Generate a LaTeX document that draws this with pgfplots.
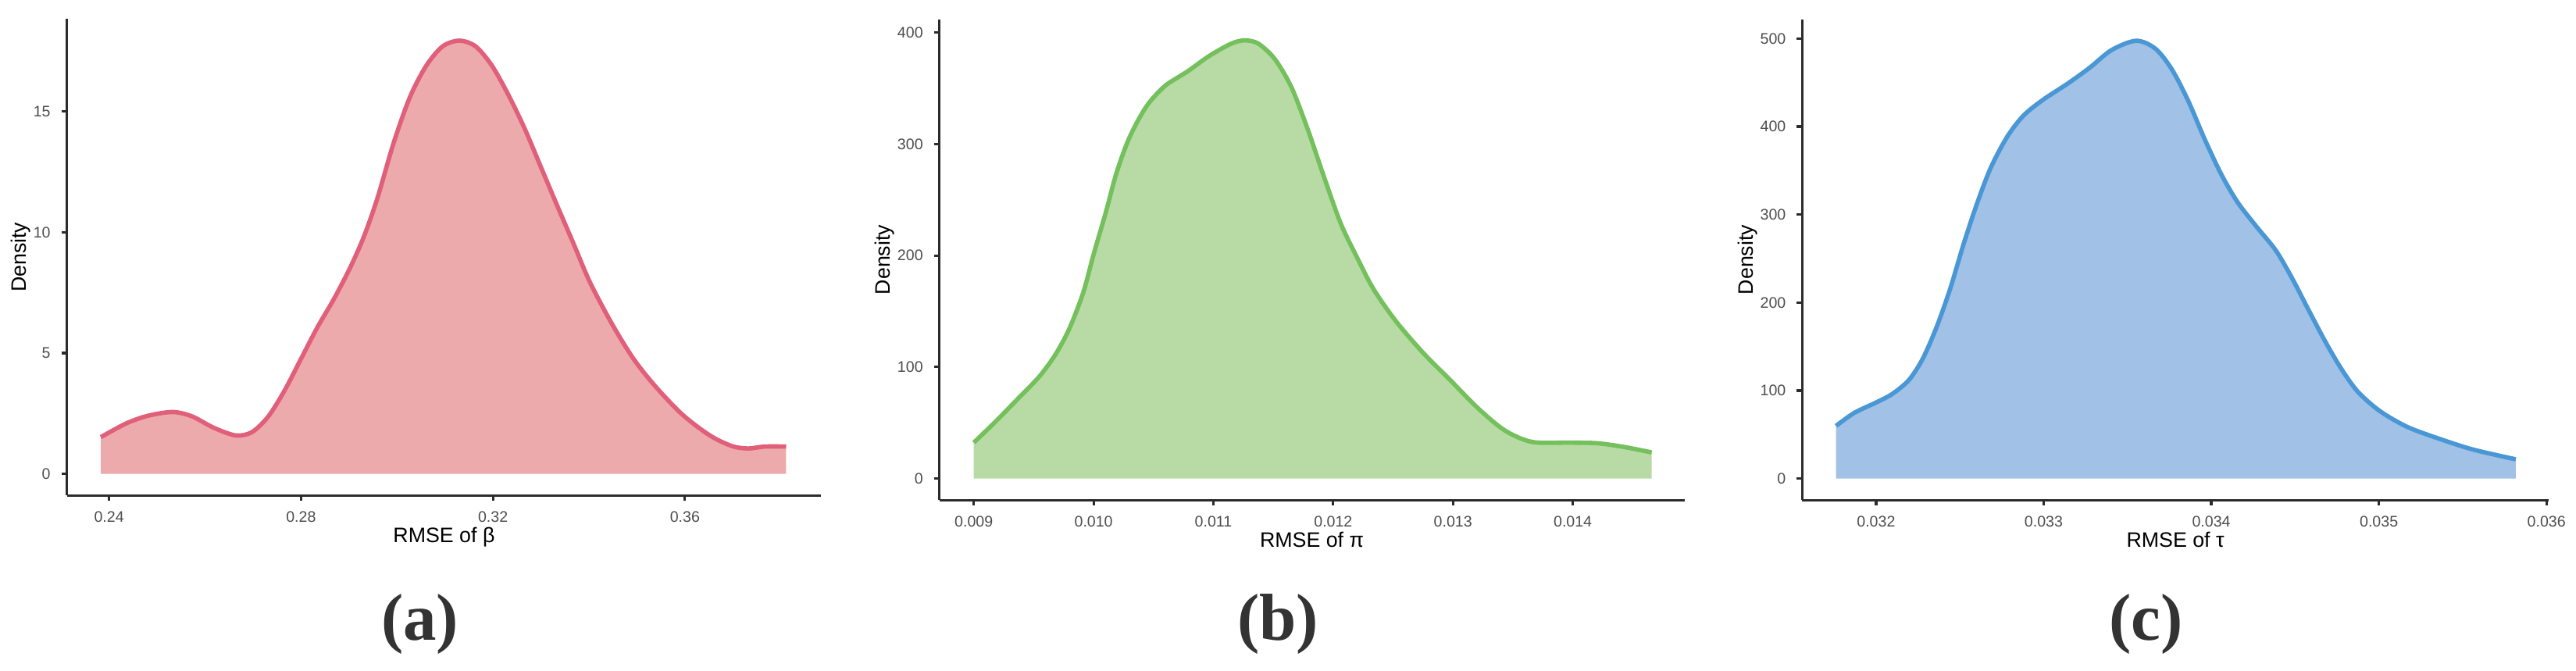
\documentclass[border=0pt]{standalone}
\usepackage{fontspec}
\setmainfont{Liberation Sans}
\newfontfamily\capfont{Liberation Serif}
\usepackage{pgfplots}
\usepackage{pgfplotstable}
\pgfplotsset{compat=1.18}
\definecolor{redline}{HTML}{E0607A}
\definecolor{redfill}{HTML}{EDAAAD}
\definecolor{greenline}{HTML}{74C05C}
\definecolor{greenfill}{HTML}{B8DBA6}
\definecolor{blueline}{HTML}{4A97D5}
\definecolor{bluefill}{HTML}{A2C1E6}
\definecolor{axcol}{HTML}{2B2B2B}
\definecolor{tickcol}{HTML}{4D4D4D}
\definecolor{capcol}{HTML}{333333}

\pgfplotstableread{
x y
0.2383 1.52
0.2436 2.09
0.2482 2.41
0.2533 2.56
0.2573 2.38
0.2618 1.91
0.2664 1.59
0.2698 1.73
0.2732 2.38
0.2766 3.46
0.2800 4.76
0.2834 6.06
0.2868 7.22
0.2902 8.52
0.2931 9.82
0.2959 11.4
0.2993 13.7
0.3027 15.6
0.3061 16.9
0.3095 17.7
0.3130 17.94
0.3164 17.7
0.3198 16.9
0.3232 15.7
0.3266 14.3
0.3300 12.7
0.3334 11.1
0.3368 9.53
0.3402 7.94
0.3448 6.21
0.3493 4.76
0.3539 3.61
0.3595 2.45
0.3652 1.59
0.3698 1.15
0.3732 1.05
0.3766 1.13
0.3811 1.13
}\tabA

\pgfplotstableread{
x y
0.009000 32.2
0.009180 50.9
0.009366 71.3
0.009548 91.6
0.009686 112
0.009800 135
0.009914 167
0.010000 201
0.010100 238
0.010188 273
0.010280 301
0.010370 321
0.010463 337
0.010600 352.5
0.010782 365
0.010965 379
0.011148 390
0.011262 393
0.011376 390
0.011514 376
0.011651 351
0.011788 313
0.011925 270
0.012062 229
0.012200 198
0.012336 170
0.012520 141.6
0.012748 113
0.012976 88.4
0.013205 63.4
0.013433 43.1
0.013662 32.8
0.013982 32.2
0.014210 31.6
0.014439 28.1
0.014658 23.4
}\tabB

\pgfplotstableread{
x y
0.031761 59.8
0.031869 74.5
0.032000 86.4
0.032098 96.3
0.032196 112
0.032278 136
0.032360 171.6
0.032441 215
0.032523 267
0.032605 314
0.032686 354
0.032784 389
0.032882 413
0.033000 431
0.033144 449
0.033275 467
0.033405 487
0.033552 497.6
0.033667 488.5
0.033765 465
0.033863 429
0.033961 385.5
0.034059 346
0.034157 314
0.034271 286
0.034386 259
0.034484 227
0.034582 191
0.034680 155.7
0.034778 124
0.034876 98.3
0.035007 76.5
0.035170 58.6
0.035366 44.8
0.035562 32.9
0.035817 21.8
}\tabC

\pgfplotsset{rstyle/.style={
  scale only axis, anchor=south west,
  axis lines*=left,
  scaled x ticks=false, scaled y ticks=false,
  axis line style={line width=0.8pt, color=axcol},
  tick align=outside, major tick length=1.7pt,
  every tick/.style={line width=0.8pt, color=axcol},
  ticklabel style={font=\fontsize{4.9}{5.9}\selectfont, text=tickcol},
  label style={font=\fontsize{6.7}{8}\selectfont, text=black},
  xlabel style={anchor=base},
  ylabel style={anchor=center, rotate=0},
}}

\begin{document}
\begin{tikzpicture}
\path (0,0) rectangle (824.5pt,214.75pt);

\begin{axis}[rstyle, at={(21.4pt,56.125pt)}, width=241.6pt, height=152.5pt,
  xmin=0.2312, xmax=0.3884, ymin=-0.89, ymax=18.83,
  xtick={0.24,0.28,0.32,0.36}, xticklabels={0.24,0.28,0.32,0.36},
  ytick={0,5,10,15}, yticklabels={0,5,10,15},
  xlabel={RMSE of β}, ylabel={Density},
  xlabel style={at={(axis description cs:0.5,-0.0992)}},
  ylabel style={at={(axis description cs:-0.0606,0.5)}},
]
\addplot[draw=none, fill=redfill, smooth] table {\tabA} \closedcycle;
\addplot[redline, line width=1.4pt, smooth] table {\tabA};
\end{axis}

\begin{axis}[rstyle, at={(300.83pt,54.58pt)}, width=238.65pt, height=154pt,
  xmin=0.008712, xmax=0.014932, ymin=-19.4, ymax=411.9,
  xtick={0.009,0.010,0.011,0.012,0.013,0.014},
  xticklabels={0.009,0.010,0.011,0.012,0.013,0.014},
  ytick={0,100,200,300,400}, yticklabels={0,100,200,300,400},
  xlabel={RMSE of π}, ylabel={Density},
  xlabel style={at={(axis description cs:0.5,-0.0974)}},
  ylabel style={at={(axis description cs:-0.0733,0.5)}},
]
\addplot[draw=none, fill=greenfill, smooth] table {\tabB} \closedcycle;
\addplot[greenline, line width=1.4pt, smooth] table {\tabB};
\end{axis}

\begin{axis}[rstyle, at={(577.18pt,54.58pt)}, width=239.08pt, height=154pt,
  xmin=0.031559, xmax=0.036013, ymin=-24.6, ymax=522,
  xtick={0.032,0.033,0.034,0.035,0.036},
  xticklabels={0.032,0.033,0.034,0.035,0.036},
  ytick={0,100,200,300,400,500}, yticklabels={0,100,200,300,400,500},
  xlabel={RMSE of τ}, ylabel={Density},
  xlabel style={at={(axis description cs:0.5,-0.0974)}},
  ylabel style={at={(axis description cs:-0.0726,0.5)}},
]
\addplot[draw=none, fill=bluefill, smooth] table {\tabC} \closedcycle;
\addplot[blueline, line width=1.4pt, smooth] table {\tabC};
\end{axis}

\node[font=\capfont\bfseries\fontsize{21.25}{24}\selectfont, text=capcol] at (134.5pt,14.75pt) {(a)};
\node[font=\capfont\bfseries\fontsize{21.25}{24}\selectfont, text=capcol] at (409.25pt,14.75pt) {(b)};
\node[font=\capfont\bfseries\fontsize{21.25}{24}\selectfont, text=capcol] at (687.25pt,14.75pt) {(c)};
\end{tikzpicture}
\end{document}
